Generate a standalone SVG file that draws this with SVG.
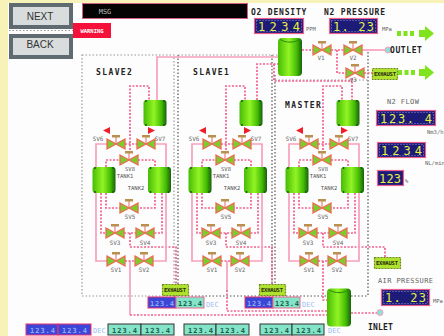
<svg xmlns="http://www.w3.org/2000/svg" width="444" height="336" viewBox="0 0 444 336">
<defs>
<style>
.p{fill:none;stroke:#f7a0bc;stroke-width:1.7}
.d{fill:none;stroke:#f2608e;stroke-width:1.7;stroke-dasharray:2 1.5}
.b{fill:none;stroke:#9a9a9a;stroke-width:1.2;stroke-dasharray:1.5 2}
.k{fill:none;stroke:#555;stroke-width:1.2;stroke-dasharray:1.5 2}
text{font-family:"DejaVu Sans Mono","Liberation Mono",monospace}
.l{font-size:6px;fill:#666;text-anchor:middle}
.t{font-size:5.500px;fill:#555;text-anchor:middle}
.h{font-size:8px;font-weight:bold;fill:#222;letter-spacing:.8px}
.m{font-size:8px;font-weight:bold;fill:#222;letter-spacing:1.4px}
.o{font-size:7px;fill:#666;letter-spacing:.4px}
.n{fill:#e8ee40;font-size:12px}
.u{font-size:5.500px;fill:#666}
.ex{font-size:5.500px;font-weight:bold;fill:#2a2a10}
.bt{font-size:7px;fill:#8fa8f0;font-weight:bold}
.gt{font-size:7px;fill:#16604c;font-weight:bold}
.dec{font-size:7px;fill:#9cc0f4}
.ar{fill:#7fe41e}
.db{fill:#1c1c78;stroke:#f0608e;stroke-width:1.200}
.dw{fill:none;stroke:#8f8fd8;stroke-width:1;stroke-dasharray:1 2}
.eb{fill:#aee22c;stroke:#6e8a18;stroke-width:1.200;stroke-dasharray:2 1}
.sb{fill:#3b46d8;stroke:#e83070;stroke-width:1}
.st{fill:#84e4c8;stroke:#e86a90;stroke-width:1}
.bx{fill:#84e4c8;stroke:#333;stroke-width:1}
</style>
<linearGradient id="tg" x1="0" x2="1" y1="0" y2="0"><stop offset="0" stop-color="#46bc04"/><stop offset=".45" stop-color="#92f424"/><stop offset=".78" stop-color="#44bc04"/><stop offset="1" stop-color="#17600c"/></linearGradient>
<g id="tank"><rect x="-11.500" y="-13" width="23" height="26" rx="3" fill="url(#tg)"/><path d="M-9-13v2M9-13v2M9 13v-2M-9 13v-2" stroke="#1a5a10" stroke-width="1.500"/></g>
<g id="bigtank"><rect x="-12" y="-19" width="24" height="38" rx="4" fill="url(#tg)"/><path d="M-10-17.500C-4-14 4-14 10-17.500" fill="none" stroke="#2a8a08"/></g>
<g id="valve"><path d="M0-1V-7" stroke="#ec8a8a" stroke-width="1.300"/><rect x="-4" y="-9" width="8" height="2.500" fill="#b99050"/><path d="M-9-5 0 0-9 5ZM9-5 0 0 9 5Z" fill="#7ccc30" stroke="#ee6a50" stroke-width="1.300"/></g>
<g id="module">
<path class="d" d="M-24 6V-58H-5V-44M-29 0H-17M-30 89H-18M-24 89V103M-29 117H-19"/>
<path class="p" d="M-47 0H-58V23M-58 49V117H-47M1 0H12V23M12 49V117H-1"/>
<path class="d" d="M-53 49V89H-48M-48 49V64H-34M1 49V64H-16M8 49V89H0M-48 23V16H-34M-16 16H1V23"/>
<use href="#tank" x="1" y="-31"/>
<use href="#tank" x="-50" y="36"/>
<use href="#tank" x="5.500" y="36"/>
<use href="#valve" x="-38" y="0"/>
<use href="#valve" x="-8" y="0"/>
<use href="#valve" x="-25" y="16"/>
<use href="#valve" x="-25" y="64"/>
<use href="#valve" x="-39" y="89"/>
<use href="#valve" x="-9" y="89"/>
<use href="#valve" x="-38" y="117"/>
<use href="#valve" x="-10" y="117"/>
<text class="t" x="-24" y="27">SV8</text>
<text class="l" x="-24" y="75">SV5</text>
<text class="l" x="-39" y="101">SV3</text>
<text class="l" x="-9" y="101">SV4</text>
<text class="l" x="-38" y="128">SV1</text>
<text class="l" x="-10" y="128">SV2</text>
<text class="l" x="-56" y="-3">SV6</text>
<text class="l" x="6" y="-3">SV7</text>
<text class="t" x="-29" y="34">TANK1</text>
<text class="t" x="-18" y="46">TANK2</text>
<path d="M-51-13.500-44-17V-10ZM-6-10V-17L1-13.500Z" fill="#f01c28"/>
</g>
</defs>
<rect width="444" height="336" fill="#fdfdfd"/>
<rect width="444" height="3" fill="#f6f2b8"/>
<rect width="8" height="336" fill="#f6f2b8"/>

<g id="next-button"><rect x="11" y="5" width="60" height="22" fill="#d8dcdc" stroke="#5f6b70" stroke-width="4"/><text x="40" y="20" font-size="10" fill="#333" text-anchor="middle" style="font-family:'Liberation Sans',sans-serif">NEXT</text></g>
<g id="back-button"><rect x="11" y="36" width="60" height="21" fill="#d8dcdc" stroke="#5f6b70" stroke-width="4"/><text x="40" y="48" font-size="10" fill="#333" text-anchor="middle" style="font-family:'Liberation Sans',sans-serif">BACK</text></g>
<path class="b" d="M9 30.500H73"/>
<g id="warning"><rect x="73" y="23" width="38" height="15" fill="#f5123a"/><text x="92" y="32.500" font-size="5.500" fill="#fff" text-anchor="middle" font-weight="bold">WARNING</text></g>
<g id="msg-bar"><rect x="82.500" y="3.500" width="165" height="15" fill="#040404" stroke="#d06080"/><text x="105" y="14" font-size="7" fill="#bbb" text-anchor="middle">MSG</text></g>

<g id="frames">
<path class="b" d="M82 55H174V296H82Z"/>
<path class="k" d="M178 55V296M272 55V296M275 75V296M368 52V296M174 296H327M351 296H368"/>
<path class="b" d="M178 55H278M275 80H368"/>
</g>

<g id="connectors">
<path class="p" d="M157 100V57H278"/>
<path class="d" d="M257 100V64H278"/>
<path class="d" d="M274 64V81H352M352 78V100"/>
<path class="d" d="M302 50H313M331 50H344M337 50V73H346"/>
<path class="p" d="M362 50H385"/>
<path class="d" d="M364 73H372"/>
<path class="d" d="M130 247H176V285"/>
<path class="d" d="M226 247H272V285"/>
<path class="d" d="M323 247H385V257"/>
<path class="p" d="M130 261V315"/>
<path class="d" d="M130 315H327"/>
<path class="p" d="M227 261V290"/>
<path class="d" d="M227 290V311H327"/>
<path class="d" d="M323 261V300H327"/>
<path class="d" d="M351 313H377"/>
</g>

<g id="slave2"><use href="#module" x="154" y="144"/><text class="m" x="96" y="75">SLAVE2</text></g>
<g id="slave1"><use href="#module" x="250" y="144"/><text class="m" x="193" y="75">SLAVE1</text></g>
<g id="master"><use href="#module" x="347" y="144"/><text class="m" x="285" y="108">MASTER</text></g>

<g id="v1"><use href="#valve" x="322" y="50"/><text class="l" x="321" y="60">V1</text></g>
<g id="v2"><use href="#valve" x="353" y="50"/><text class="l" x="353" y="60">V2</text></g>
<g id="v3"><use href="#valve" x="355" y="73"/><text class="l" x="353" y="82">V3</text></g>
<g id="main-tank"><use href="#bigtank" x="290" y="57"/></g>
<g id="inlet-tank"><use href="#bigtank" x="339" y="307.500"/></g>

<g id="o2-density"><text class="h" x="251" y="15">O2 DENSITY</text><rect class="db" x="254.500" y="18.500" width="49" height="15"/><rect class="dw" x="256.500" y="20.500" width="45" height="11"/><text class="n" x="258" y="30.500" textLength="42">1234</text><text class="u" x="306" y="31">PPM</text></g>
<g id="n2-pressure"><text class="h" x="324" y="15">N2 PRESSURE</text><rect class="db" x="329.500" y="18.500" width="48" height="15"/><rect class="dw" x="331.500" y="20.500" width="44" height="11"/><text class="n" x="333" y="30.500" textLength="41" xml:space="preserve">1. 23</text><text class="u" x="382" y="31">MPa</text></g>
<g id="n2-flow"><text class="o" x="387" y="104">N2 FLOW</text><rect class="db" x="376.500" y="110.500" width="59" height="15"/><rect class="dw" x="378.500" y="112.500" width="55" height="11"/><text class="n" x="380" y="122.500" textLength="52" xml:space="preserve">123. 4</text><text class="u" x="427" y="134">Nm3/h</text></g>
<g id="nl-flow"><rect class="db" x="377.500" y="142.500" width="48" height="15"/><rect class="dw" x="379.500" y="144.500" width="44" height="11"/><text class="n" x="381" y="154.500" textLength="41">1234</text><text class="u" x="425" y="165">NL/min</text></g>
<g id="percent"><rect class="db" x="377.500" y="170.500" width="26" height="15"/><text class="n" x="379" y="182.500" textLength="22">123</text><text class="u" x="405" y="183">%</text></g>
<g id="air-pressure"><text class="o" x="378" y="283">AIR PRESSURE</text><rect class="db" x="381.500" y="289.500" width="48" height="16"/><rect class="dw" x="383.500" y="291.500" width="44" height="12"/><text class="n" x="385" y="302" textLength="41" xml:space="preserve">1. 23</text><text class="u" x="433" y="303">MPa</text></g>

<g id="outlet"><circle cx="388" cy="50" r="3" fill="#8fe0d8" stroke="#f7a0bc"/><text class="m" x="390" y="53" style="letter-spacing:.6px">OUTLET</text></g>
<g id="inlet"><circle cx="380" cy="312.500" r="3" fill="#8fe0d8" stroke="#f7a0bc"/><text class="m" x="368" y="330" style="letter-spacing:.2px">INLET</text></g>

<g id="exhaust-main"><rect class="eb" x="372.500" y="68.500" width="25" height="11"/><text class="ex" x="374" y="76" textLength="22">EXHAUST</text></g>
<g id="exhaust-master"><rect class="eb" x="374.500" y="257.500" width="26" height="11"/><text class="ex" x="376" y="265" textLength="22">EXHAUST</text></g>
<g id="exhaust-slave2"><rect class="eb" x="162.500" y="284.500" width="26" height="11"/><text class="ex" x="164" y="292" textLength="22">EXHAUST</text></g>
<g id="exhaust-slave1"><rect class="eb" x="259.500" y="284.500" width="26" height="11"/><text class="ex" x="261" y="292" textLength="22">EXHAUST</text></g>

<g id="arrow-outlet" class="ar"><path d="M397 31h4v5h-4zM403.500 31h4v5h-4zM410 31h4v5h-4zM419 30H425V26L434 33.500 425 41V37H419Z"/></g>
<g id="arrow-exhaust" class="ar"><path d="M398 70h4v5h-4zM404.500 70h4v5h-4zM411 70h4v5h-4zM419 69H425V65L434 72.500 425 80V76H419Z"/></g>

<g id="timers-slave2"><rect class="sb" x="148" y="297" width="28" height="11"/><rect class="st" x="176" y="297" width="28" height="11"/><text class="bt" x="150" y="306" textLength="24">123.4</text><text class="gt" x="178" y="306" textLength="24">123.4</text><text class="dec" x="206" y="307">DEC</text></g>
<g id="timers-slave1"><rect class="sb" x="245" y="297" width="28" height="11"/><rect class="st" x="273" y="297" width="27" height="11"/><text class="bt" x="247" y="306" textLength="24">123.4</text><text class="gt" x="275" y="306" textLength="24">123.4</text><text class="dec" x="302" y="307">DEC</text></g>
<g id="timers-bottom">
<rect class="sb" x="26" y="324" width="32" height="11"/><rect class="sb" x="58" y="324" width="33" height="11"/><text class="bt" x="30" y="333" textLength="25">123.4</text><text class="bt" x="62" y="333" textLength="25">123.4</text><text class="dec" x="93" y="333">DEC</text>
<rect class="bx" x="108" y="324" width="33" height="11"/><rect class="bx" x="141" y="324" width="33" height="11"/><text class="gt" x="112" y="333" textLength="25">123.4</text><text class="gt" x="145" y="333" textLength="25">123.4</text>
<rect class="bx" x="184" y="324" width="32" height="11"/><rect class="bx" x="216" y="324" width="33" height="11"/><text class="gt" x="188" y="333" textLength="25">123.4</text><text class="gt" x="220" y="333" textLength="25">123.4</text>
<rect class="bx" x="260" y="324" width="32" height="11"/><rect class="bx" x="292" y="324" width="32" height="11"/><text class="gt" x="264" y="333" textLength="25">123.4</text><text class="gt" x="296" y="333" textLength="25">123.4</text><text class="dec" x="328" y="333">DEC</text>
</g>
</svg>
